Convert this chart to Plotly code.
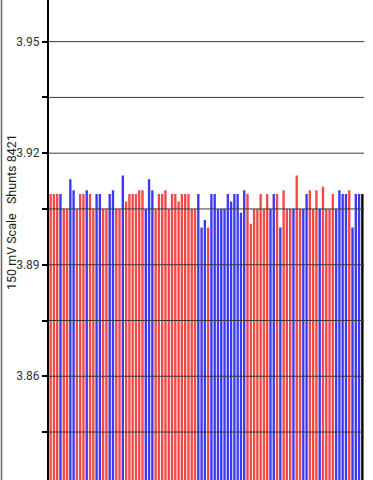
import plotly.graph_objects as go

# ---- data ----
bar_index = list(range(1, 97))
groups = list("RRRBRRBBRRRBRRBBRRBBRRBRRRRRRBBBRRRRRRRRRRRRRBBBRBBBBBBBBBBBRRRRRRRBBRBRRRBRRBBRRRBRRRRBBBBRBBB")
values = [
    3.909, 3.909, 3.909, 3.909, 3.905, 3.905, 3.913, 3.910, 3.905, 3.909,
    3.909, 3.910, 3.909, 3.905, 3.909, 3.909, 3.905, 3.905, 3.909, 3.910,
    3.905, 3.905, 3.914, 3.907, 3.909, 3.909, 3.909, 3.910, 3.910, 3.905,
    3.913, 3.910, 3.905, 3.909, 3.909, 3.910, 3.905, 3.909, 3.909, 3.907,
    3.909, 3.909, 3.909, 3.905, 3.905, 3.909, 3.900, 3.902, 3.900, 3.909,
    3.909, 3.905, 3.905, 3.905, 3.909, 3.907, 3.909, 3.909, 3.904, 3.910,
    3.909, 3.901, 3.905, 3.905, 3.909, 3.905, 3.909, 3.905, 3.909, 3.909,
    3.900, 3.910, 3.905, 3.905, 3.905, 3.914, 3.905, 3.905, 3.909, 3.910,
    3.905, 3.910, 3.905, 3.911, 3.905, 3.905, 3.909, 3.905, 3.910, 3.909,
    3.909, 3.910, 3.900, 3.909, 3.909, 3.909,
]
tick_values = [3.845, 3.86, 3.875, 3.89, 3.905, 3.92, 3.935, 3.95]
tick_labels = ["", "3.86", "", "3.89", "", "3.92", "", "3.95"]
y_range = [3.8321, 3.9612]
axis_title = "150 mV Scale\u00a0\u00a0\u00a0Shunts 8421"

# ---- styling ----
color_map = {"R": "#f24848", "B": "#3a3af2"}
W, H = 373, 480
ML, MR = 49, 9
plot_w = W - ML - MR

fig = go.Figure(
    go.Bar(
        x=bar_index,
        y=values,
        marker=dict(color=[color_map[g] for g in groups], line=dict(width=0)),
        hoverinfo="y",
    )
)

shapes = [
    dict(type="line", xref="paper", yref="y", x0=0, x1=1, y0=v, y1=v,
         line=dict(color="#3a3a3a", width=1), layer="above")
    for v in tick_values
]
# thin frame line at the far left edge of the page
shapes.append(dict(type="line", xref="paper", yref="paper",
                   x0=-(ML - 1.5) / plot_w, x1=-(ML - 1.5) / plot_w, y0=0, y1=1,
                   line=dict(color="#666666", width=1.5), layer="above"))

fig.update_layout(
    width=W, height=H,
    margin=dict(l=ML, r=MR, t=0, b=0, pad=0),
    paper_bgcolor="white", plot_bgcolor="white",
    bargap=0.28,
    showlegend=False,
    font=dict(family="Roboto, Arial, sans-serif", size=12, color="#333333"),
    xaxis=dict(visible=False, range=[0.5, 96.5]),
    yaxis=dict(
        range=y_range,
        tickmode="array", tickvals=tick_values, ticktext=tick_labels,
        ticks="outside", ticklen=5, tickwidth=2, tickcolor="#000000",
        showline=True, linecolor="#000000", linewidth=2,
        showgrid=False, zeroline=False,
        tickfont=dict(size=12, color="#333333"),
    ),
    shapes=shapes,
    annotations=[dict(
        text=axis_title, textangle=-90, showarrow=False,
        xref="paper", yref="paper",
        x=(11 - ML) / plot_w, y=(H - 212) / H,
        xanchor="center", yanchor="middle",
        font=dict(size=12.5, color="#222222"),
    )],
)

fig.write_html(
    "out.html",
    config={"displayModeBar": False},
    post_script="document.body.style.margin='0';document.body.style.overflow='hidden';",
)
